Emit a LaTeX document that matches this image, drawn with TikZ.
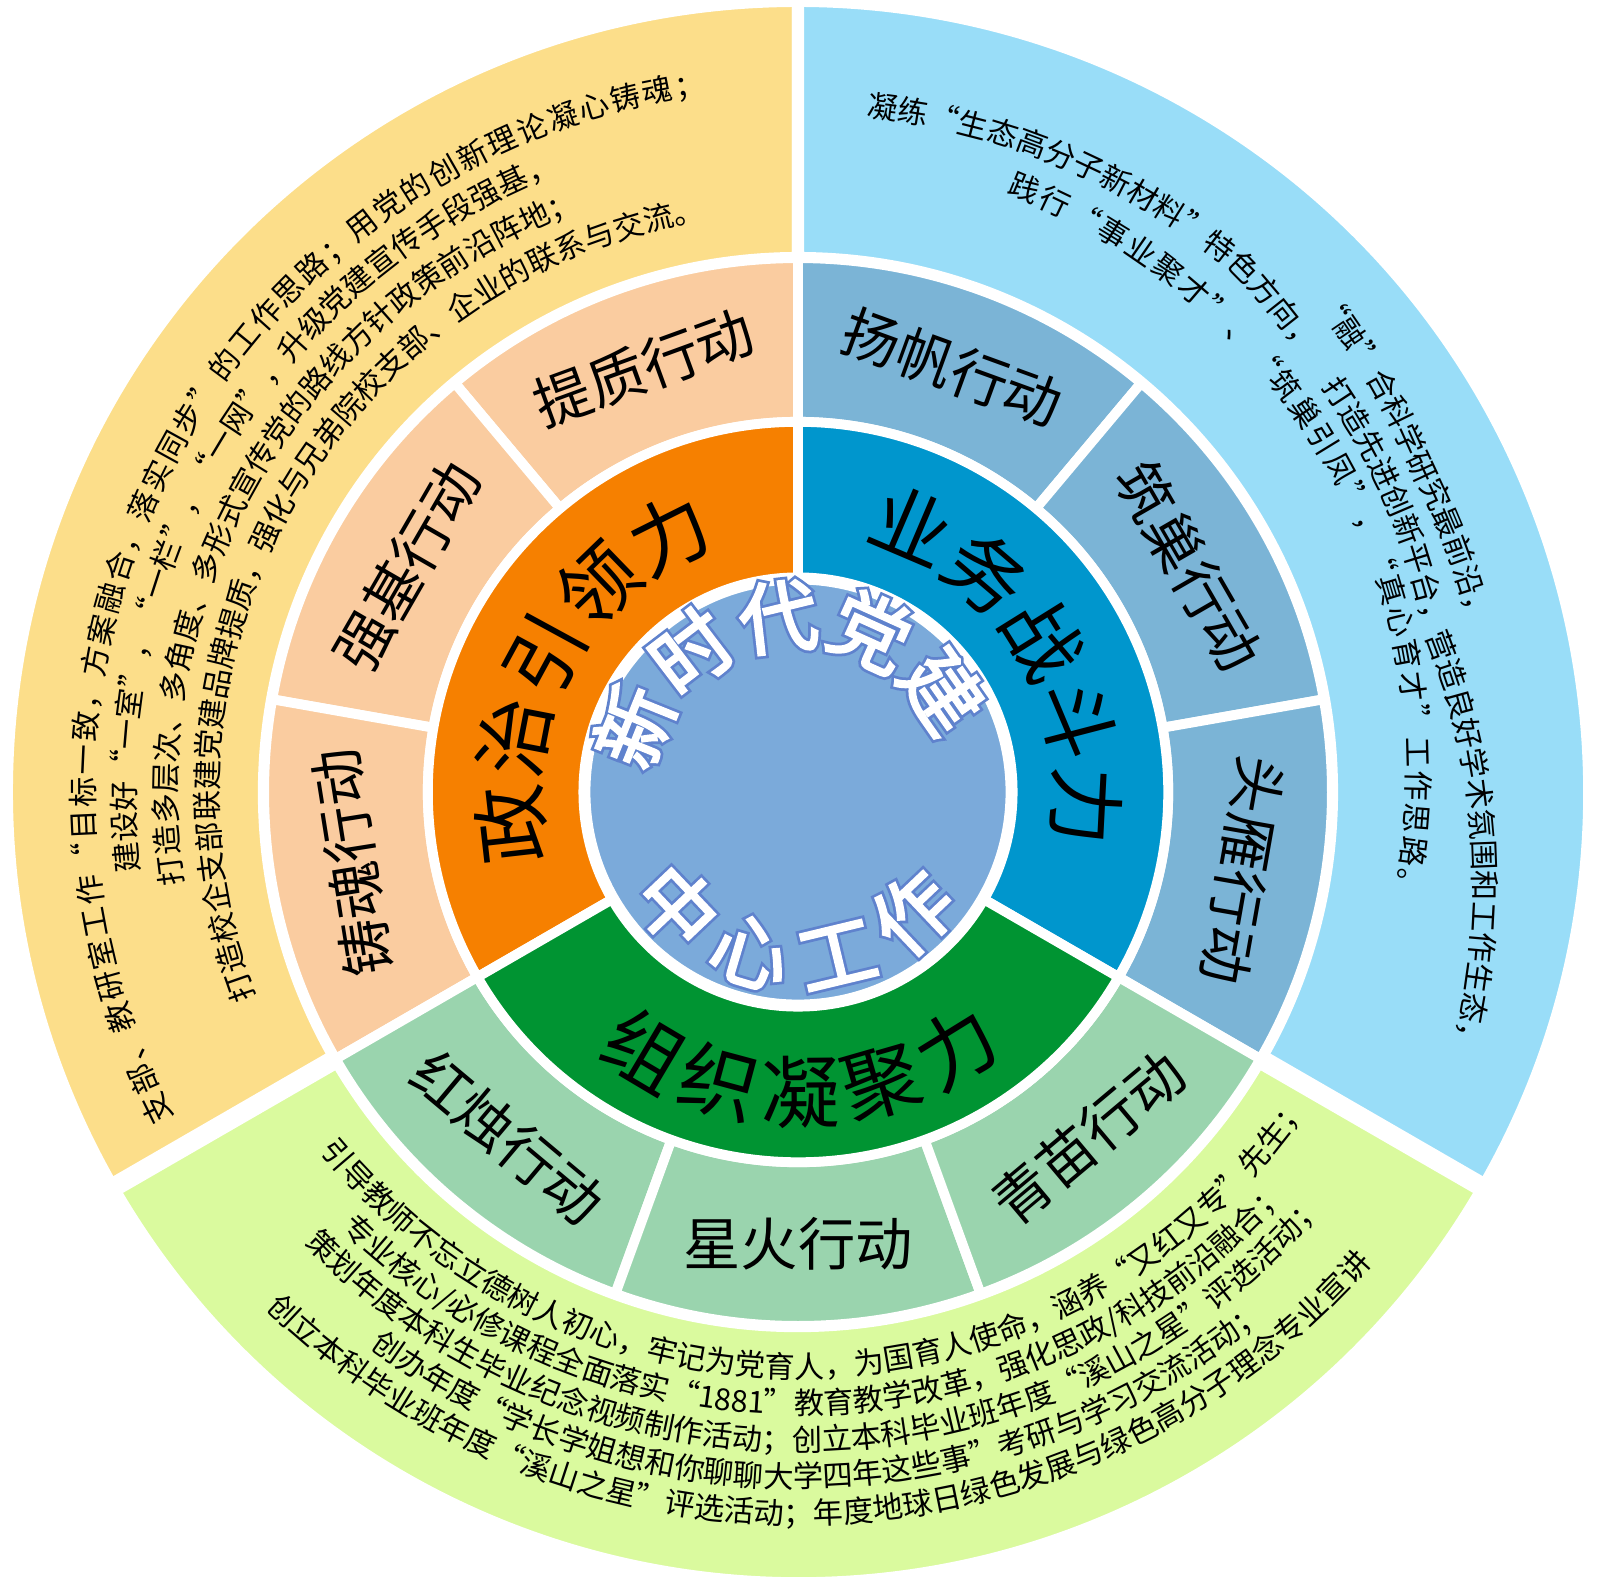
\documentclass[tikz,border=0pt]{standalone}
\usepackage{fontspec}
\usepackage{tikz}
\usetikzlibrary{decorations.text}
\newfontfamily\cjk{Noto Sans CJK SC}
\newfontfamily\cjkhalo[FakeBold=10]{Noto Sans CJK SC}
\newfontfamily\cjkbold[FakeBold=3]{Noto Sans CJK SC}
\newcommand{\notetext}{\cjk\fontsize{8.6}{10}\selectfont}
\newcommand{\actiontext}{\cjk\fontsize{16.3}{18}\selectfont}
\newcommand{\powertext}{\cjk\fontsize{22.4}{24}\selectfont}
\newcommand{\hubhalo}{\cjkhalo\fontsize{22.4}{24}\selectfont}
\newcommand{\hubtext}{\cjkbold\fontsize{22.4}{24}\selectfont}
\newcommand{\ringpart}[5]{\path[#5] (#1:#3) arc[start angle=#1, end angle=#2, radius=#3] -- (#2:#4) arc[start angle=#2, end angle=#1, radius=#4] -- cycle;}
\definecolor{yellowout}{RGB}{252,222,138}
\definecolor{blueout}{RGB}{153,221,248}
\definecolor{greenout}{RGB}{218,250,158}
\definecolor{peachmid}{RGB}{250,204,160}
\definecolor{bluemid}{RGB}{123,180,214}
\definecolor{greenmid}{RGB}{154,212,174}
\definecolor{orangein}{RGB}{246,128,0}
\definecolor{bluein}{RGB}{0,150,205}
\definecolor{greenin}{RGB}{0,148,50}
\definecolor{hub}{RGB}{123,170,218}
\definecolor{hubline}{RGB}{95,130,205}
\tikzstyle{outerpart} = [draw=white, line width=3.5pt]
\tikzstyle{innerpart} = [draw=white, line width=2.8pt]
\tikzstyle{hubpart} = [draw=white, line width=3.4pt]
\tikzstyle{widegap} = [draw=white, line width=5.5pt]
\tikzstyle{action} = [font=\actiontext, inner sep=0pt]
\tikzstyle{along} = [decorate, decoration={text along path, text align=center}]
\tikzstyle{alongleft} = [decorate, decoration={text along path, text align=left}]
\tikzstyle{alongfit} = [decorate, decoration={text along path, text align=fit to path}]

\begin{document}
\begin{tikzpicture}[x=1.017cm, y=1.017cm]
\fill[white] (-7.847,-7.866) rectangle (7.886,7.788);
\useasboundingbox (-7.847,-7.866) rectangle (7.886,7.788);

\ringpart{90}{210}{7.78}{5.25}{fill=yellowout, outerpart}
\ringpart{-30}{90}{7.78}{5.25}{fill=blueout, outerpart}
\ringpart{210}{330}{7.78}{5.25}{fill=greenout, outerpart}
\path[widegap] (210:5.25) -- (210:7.9);
\path[widegap] (330:5.25) -- (330:7.9);

\ringpart{90}{130}{5.25}{3.64}{fill=peachmid, innerpart}
\ringpart{130}{170}{5.25}{3.64}{fill=peachmid, innerpart}
\ringpart{170}{210}{5.25}{3.64}{fill=peachmid, innerpart}
\ringpart{50}{90}{5.25}{3.64}{fill=bluemid, innerpart}
\ringpart{10}{50}{5.25}{3.64}{fill=bluemid, innerpart}
\ringpart{-30}{10}{5.25}{3.64}{fill=bluemid, innerpart}
\ringpart{210}{250}{5.25}{3.64}{fill=greenmid, innerpart}
\ringpart{250}{290}{5.25}{3.64}{fill=greenmid, innerpart}
\ringpart{290}{330}{5.25}{3.64}{fill=greenmid, innerpart}

\ringpart{90}{210}{3.64}{2.10}{fill=orangein, innerpart}
\ringpart{-30}{90}{3.64}{2.10}{fill=bluein, innerpart}
\ringpart{210}{330}{3.64}{2.10}{fill=greenin, innerpart}
\path[fill=hub, hubpart] (0,0) circle[radius=2.10];

\node (tizhi) [action, rotate=20] at (110:4.44) {提质行动};
\node (qiangji) [action, rotate=60] at (150:4.44) {强基行动};
\node (zhuhun) [action, rotate=99] at (189:4.44) {铸魂行动};
\node (yangfan) [action, rotate=-20] at (70:4.44) {扬帆行动};
\node (zhuchao) [action, rotate=-60] at (30:4.44) {筑巢行动};
\node (touyan) [action, rotate=-100] at (-10:4.44) {头雁行动};
\node (hongzhu) [action, rotate=-40] at (230:4.44) {红烛行动};
\node (xinghuo) [action, rotate=0] at (270:4.44) {星火行动};
\node (qingmiao) [action, rotate=40] at (310:4.44) {青苗行动};

\path[along, decoration={text={|\powertext|政治引领力}}] (231.5:2.54) arc[start angle=231.5, end angle=71.5, radius=2.54];
\path[along, decoration={text={|\powertext|业务战斗力}}] (112:2.54) arc[start angle=112, end angle=-48, radius=2.54];
\path[alongfit, decoration={text={|\powertext|组织凝聚力}}] (232.5:3.25) arc[start angle=232.5, end angle=308.5, radius=3.25];

\path[along, decoration={text={|\hubhalo|新时代党建}, text color=hubline}] (186.5:1.44) arc[start angle=186.5, end angle=6.5, radius=1.44];
\path[along, decoration={text={|\hubtext|新时代党建}, text color=white}] (186.5:1.44) arc[start angle=186.5, end angle=6.5, radius=1.44];
\path[alongfit, decoration={text={|\hubhalo|中心工作}, text color=hubline}] (212:1.93) arc[start angle=212, end angle=325, radius=1.93];
\path[alongfit, decoration={text={|\hubtext|中心工作}, text color=white}] (212:1.93) arc[start angle=212, end angle=325, radius=1.93];

\path[alongfit, decoration={text={|\notetext|支部、教研室工作“目标一致，方案融合，落实同步”的工作思路；用党的创新理论凝心铸魂；}}] (207.5:6.92) arc[start angle=207.5, end angle=97.5, radius=6.92];
\path[along, decoration={text={|\notetext|建设好“一室”，“一栏”，“一网”，升级党建宣传手段强基，}}] (224:6.52) arc[start angle=224, end angle=74, radius=6.52];
\path[along, decoration={text={|\notetext|打造多层次、多角度、多形式宣传党的路线方针政策前沿阵地；}}] (224.5:6.11) arc[start angle=224.5, end angle=74.5, radius=6.11];
\path[along, decoration={text={|\notetext|打造校企支部联建党建品牌提质，强化与兄弟院校支部、企业的联系与交流。}}] (225:5.70) arc[start angle=225, end angle=75, radius=5.70];

\path[alongleft, decoration={text={|\notetext|凝练“生态高分子新材料”特色方向，}}] plot[domain=0:84, samples=85, variable=\t] ({84.2-\t}:{6.67-0.013*max(\t-34.2,0)});
\path[alongleft, decoration={text={|\notetext|“融”合科学研究最前沿，}}] plot[domain=0:60, samples=61, variable=\t] ({43.5-\t}:{6.81+0.012*max(15.5-\t,0)});
\path[alongleft, decoration={text={|\notetext|打造先进创新平台，营造良好学术氛围和工作生态，}}] plot[domain=0:80, samples=81, variable=\t] ({37.8-\t}:{6.36+0.0062*max(23.8-\t,0)+0.016*max(\t-23.8,0)});
\path[alongfit, decoration={text={|\notetext|践行“事业聚才”、“筑巢引凤”，“真心育才”工作思路。}}] plot[domain=0:80.8, samples=82, variable=\t] ({70.8-\t}:{6.238-0.0035*\t});

\path[along, decoration={text={|\notetext|引导教师不忘立德树人初心，牢记为党育人，为国育人使命，涵养“又红又专”先生；}}] ([shift={(0,0.3)}]197.5:6.06) arc[start angle=197.5, end angle=347.5, radius=6.06];
\path[along, decoration={text={|\notetext|专业核心/必修课程全面落实“1881”教育教学改革，强化思政/科技前沿融合；}}] ([shift={(0,0.3)}]197:6.42) arc[start angle=197, end angle=347, radius=6.42];
\path[along, decoration={text={|\notetext|策划年度本科生毕业纪念视频制作活动；创立本科毕业班年度“溪山之星”评选活动；}}] ([shift={(0,0.3)}]197:6.78) arc[start angle=197, end angle=347, radius=6.78];
\path[along, decoration={text={|\notetext|创办年度“学长学姐想和你聊聊大学四年这些事”考研与学习交流活动；}}] ([shift={(0,0.3)}]197:7.14) arc[start angle=197, end angle=347, radius=7.14];
\path[along, decoration={text={|\notetext|创立本科毕业班年度“溪山之星”评选活动；年度地球日绿色发展与绿色高分子理念专业宣讲}}] ([shift={(0,0.3)}]197.3:7.50) arc[start angle=197.3, end angle=347.3, radius=7.50];
\end{tikzpicture}
\end{document}
